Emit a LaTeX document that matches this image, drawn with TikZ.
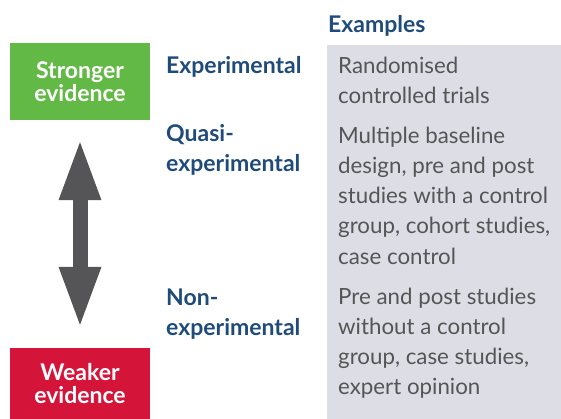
\documentclass[tikz,border=0pt]{standalone}
\usepackage{fontspec}
\setmainfont{Lato}
\usetikzlibrary{positioning,arrows.meta}
\definecolor{strongGreen}{HTML}{62B946}
\definecolor{weakRed}{HTML}{D51439}
\definecolor{labelBlue}{HTML}{1F4B7A}
\definecolor{exampleGrey}{HTML}{555555}
\definecolor{panelGrey}{HTML}{DDDDE5}
\definecolor{arrowGrey}{HTML}{555558}
\tikzset{evidence box/.style={minimum width=140pt,inner sep=0pt,text=white,align=center,
            font=\fontsize{23}{23}\selectfont\bfseries},
         design label/.style={anchor=base west,inner sep=0pt,align=left,text=labelBlue,
            font=\fontsize{23}{30}\selectfont\bfseries},
         example text/.style={anchor=base west,inner sep=0pt,align=left,text=exampleGrey,
            font=\fontsize{22.3}{30}\selectfont},
         }

\begin{document}
\begin{tikzpicture}[x=1pt,y=-1pt]
    \useasboundingbox (0,0) rectangle (561,419);

    % grey panel behind the examples
    \fill[panelGrey] (327,45) rectangle (561,419);

    \node[evidence box,fill=strongGreen,minimum height=77pt] (strong) at (80,81.5) {Stronger\\evidence};
    \node[evidence box,fill=weakRed,minimum height=71pt] (weak) at (80,383.5) {Weaker\\evidence};

    \draw[arrowGrey,line width=15pt,
          {Triangle[width=43pt,length=58pt,line width=0pt]}-{Triangle[width=43pt,length=58pt,line width=0pt]},
          shorten <=22pt,shorten >=23pt]
    (strong) -- (weak);

    % multi-line nodes sit on the baseline of their last line
    \node[design label] (examples) at (328,33) {Examples};
    \node[design label] (exp) at (166,74) {Experimental};
    \node[design label] (quasi) at (166,172) {Quasi-\\experimental};
    \node[design label] (nonexp) at (166,335) {Non-\\experimental};

    \node[example text] (rct) at (338,104) {Randomised\\controlled trials};
    \node[example text] (quasiex) at (338,264) {Multiple baseline\\design, pre and post\\studies with a control\\group, cohort studies,\\case control};
    \node[example text] (nonex) at (338,394) {Pre and post studies\\without a control\\group, case studies,\\expert opinion};

\end{tikzpicture}
\end{document}
